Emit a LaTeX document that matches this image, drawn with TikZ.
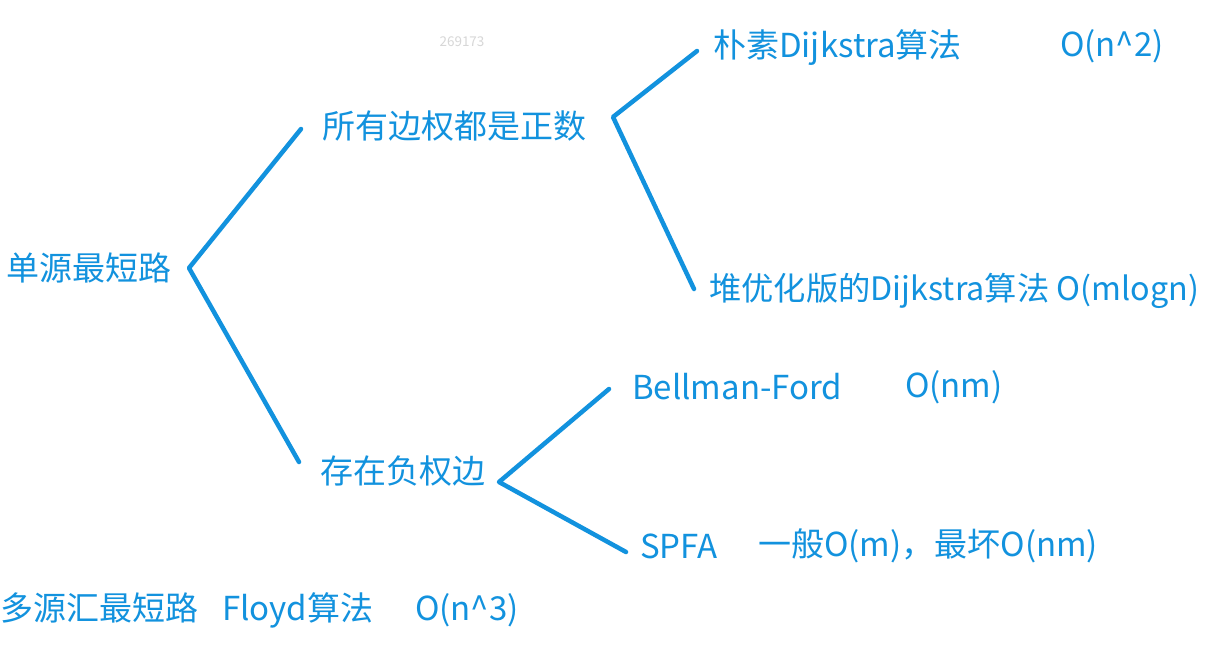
\documentclass[tikz,border=0pt]{standalone}
\usepackage{fontspec}
\setmainfont{Noto Sans CJK SC}
\definecolor{ink}{RGB}{18,146,222}
\definecolor{wm}{RGB}{215,215,215}
\begin{document}
\begin{tikzpicture}[x=1pt,y=-1pt,
  txt/.style={anchor=west, inner sep=0pt, text=ink, font=\fontsize{33}{39}\selectfont},
  branch/.style={draw=ink, line width=4.5pt, line cap=round, line join=round}]
\useasboundingbox (0,0) rectangle (1207,658);
\fill[white] (0,0) rectangle (1207,658);
% watermark
\node[anchor=center, inner sep=0pt, text=wm, font=\fontsize{13.5}{15}\selectfont] (wmk) at (462,42) {269173};
% texts
\node[txt] (root) at (6,268) {单源最短路};
\node[txt] (pos) at (322,126) {所有边权都是正数};
\node[txt] (neg) at (320,471) {存在负权边};
\node[txt] (dij) at (713,48) {朴素Dijkstra算法};
\node[txt] (dijc) at (1060,46) {O(n\^{}2)};
\node[txt, font=\fontsize{32.3}{38}\selectfont] (heap) at (709,291) {堆优化版的Dijkstra算法 O(mlogn)};
\node[txt] (bf) at (632,387) {Bellman-Ford};
\node[txt] (bfc) at (905,387) {O(nm)};
\node[txt] (spfa) at (640,546) {SPFA};
\node[txt] (spfac) at (758,546) {一般O(m)，最坏O(nm)};
\node[txt] (multi) at (0,608) {多源汇最短路};
\node[txt] (floyd) at (222,610) {Floyd算法};
\node[txt] (floydc) at (415,610) {O(n\^{}3)};
% branch points
\coordinate (v0) at (189,268);
\coordinate (a1) at (301,129);
\coordinate (a2) at (299,462);
\coordinate (v1) at (613,117);
\coordinate (b1) at (697,51);
\coordinate (b2) at (694,289);
\coordinate (v2) at (499,482);
\coordinate (c1) at (609,389);
\coordinate (c2) at (626,552);
\draw[branch] (a1) -- (v0) -- (a2);
\draw[branch] (b1) -- (v1) -- (b2);
\draw[branch] (c1) -- (v2) -- (c2);
\end{tikzpicture}
\end{document}
